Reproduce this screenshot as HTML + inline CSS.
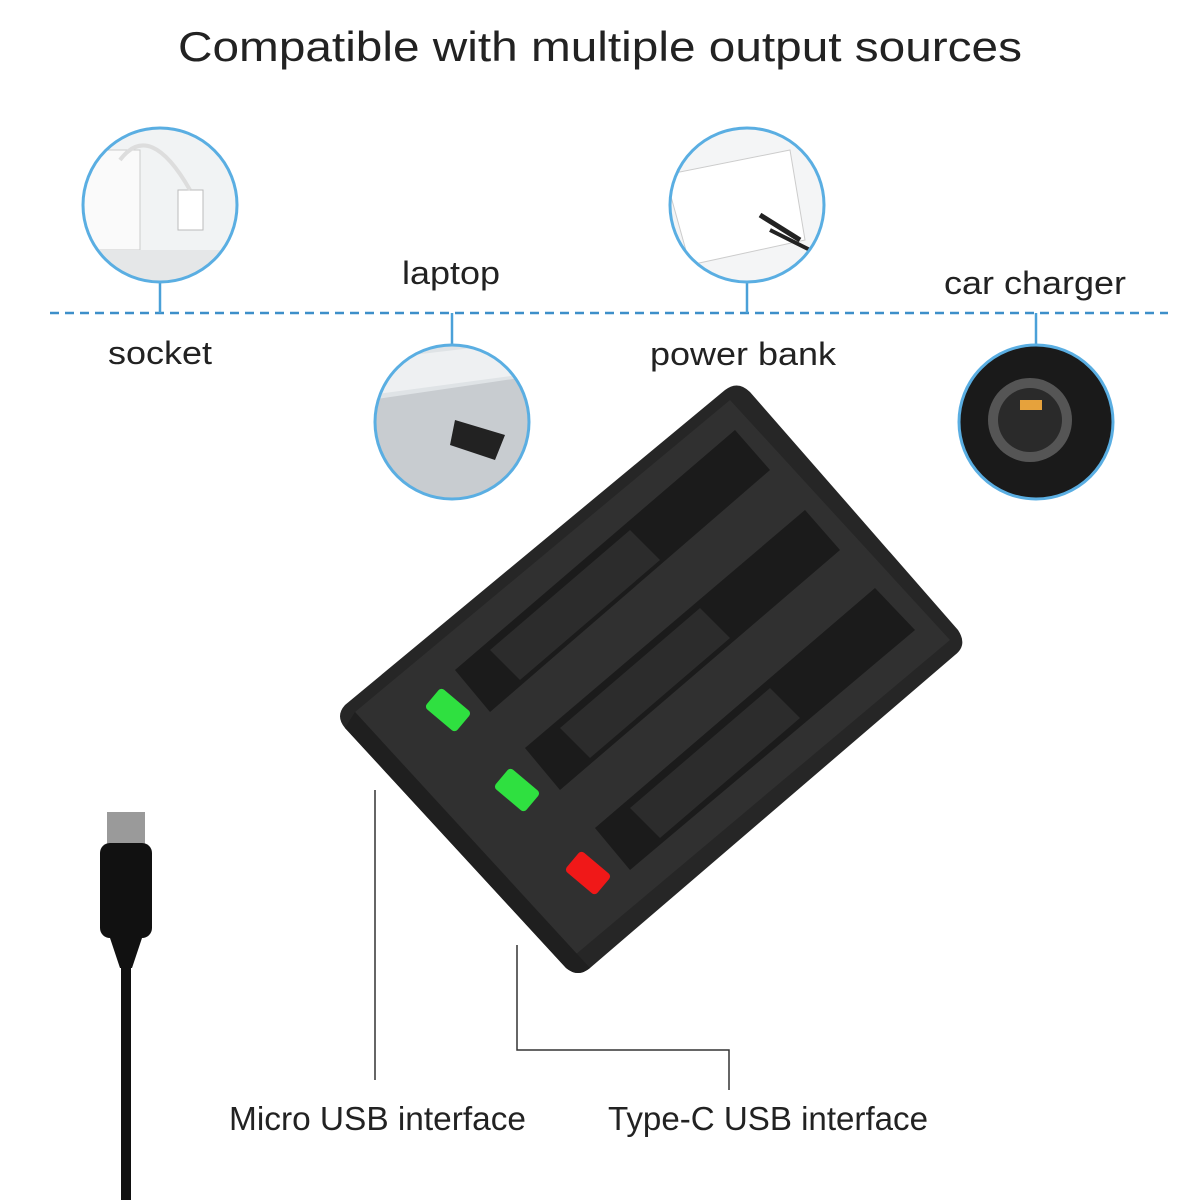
<!DOCTYPE html>
<html><head><meta charset="utf-8"><style>
html,body{margin:0;padding:0;background:#fff;}
svg{display:block}
text{font-family:"Liberation Sans",sans-serif;fill:#222}
</style></head><body>
<svg width="1200" height="1200" viewBox="0 0 1200 1200" xmlns="http://www.w3.org/2000/svg">
<defs>
<clipPath id="c1"><circle cx="160" cy="205" r="76"/></clipPath>
<clipPath id="c2"><circle cx="452" cy="422" r="76"/></clipPath>
<clipPath id="c3"><circle cx="747" cy="205" r="76"/></clipPath>
<clipPath id="c4"><circle cx="1036" cy="422" r="76"/></clipPath>
</defs>
<text x="178" y="61" font-size="42" textLength="844" lengthAdjust="spacingAndGlyphs" fill="#1a1a1a">Compatible with multiple output sources</text>
<line x1="50" y1="313" x2="1168" y2="313" stroke="#3d8fc9" stroke-width="2.5" stroke-dasharray="9,6"/>
<g stroke="#4aa0d8" stroke-width="2.5">
<line x1="160" y1="283" x2="160" y2="313"/>
<line x1="452" y1="313" x2="452" y2="345"/>
<line x1="747" y1="283" x2="747" y2="313"/>
<line x1="1036" y1="313" x2="1036" y2="345"/>
</g>
<!-- socket -->
<circle cx="160" cy="205" r="77" fill="#f1f3f4"/>
<g clip-path="url(#c1)">
<rect x="80" y="150" width="60" height="100" fill="#fafafa" stroke="#ccc"/>
<rect x="178" y="190" width="25" height="40" fill="#fff" stroke="#bbb"/>
<path d="M120 160 Q150 120 190 190" stroke="#ddd" stroke-width="4" fill="none"/>
<rect x="80" y="250" width="160" height="40" fill="#e5e7e8"/>
</g>
<circle cx="160" cy="205" r="77" fill="none" stroke="#5aaee2" stroke-width="3"/>
<!-- laptop -->
<circle cx="452" cy="422" r="77" fill="#dfe3e6"/>
<g clip-path="url(#c2)">
<path d="M370 400 L540 375 L540 500 L370 500 Z" fill="#c8ccd0"/>
<path d="M370 360 L540 340 L540 372 L370 395 Z" fill="#eef0f2"/>
<path d="M455 420 L505 435 L495 460 L450 445 Z" fill="#222"/>
</g>
<circle cx="452" cy="422" r="77" fill="none" stroke="#5aaee2" stroke-width="3"/>
<!-- power bank -->
<circle cx="747" cy="205" r="77" fill="#f4f5f6"/>
<g clip-path="url(#c3)">
<path d="M665 175 L790 150 L805 240 L690 265 Z" fill="#fff" stroke="#ccc"/>
<path d="M760 215 L800 240" stroke="#222" stroke-width="5"/>
<path d="M770 230 L810 250" stroke="#222" stroke-width="4"/>
</g>
<circle cx="747" cy="205" r="77" fill="none" stroke="#5aaee2" stroke-width="3"/>
<!-- car charger -->
<circle cx="1036" cy="422" r="77" fill="#1a1a1a"/>
<g clip-path="url(#c4)">
<circle cx="1030" cy="420" r="42" fill="#555"/>
<circle cx="1030" cy="420" r="32" fill="#2a2a2a"/>
<rect x="1020" y="400" width="22" height="10" fill="#e6a23c"/>
</g>
<circle cx="1036" cy="422" r="77" fill="none" stroke="#5aaee2" stroke-width="3"/>
<text x="108" y="364" font-size="32" textLength="104" lengthAdjust="spacingAndGlyphs">socket</text>
<text x="402" y="284" font-size="32" textLength="98" lengthAdjust="spacingAndGlyphs">laptop</text>
<text x="650" y="365" font-size="32" textLength="186" lengthAdjust="spacingAndGlyphs">power bank</text>
<text x="944" y="294" font-size="32" textLength="182" lengthAdjust="spacingAndGlyphs">car charger</text>
<!-- charger -->
<path d="M345 705 L725 390 Q738 380 750 392 L958 630 Q968 645 955 655 L590 968 Q578 978 566 968 L345 728 Q335 716 345 705 Z" fill="#262626"/>
<path d="M355 712 L730 400 L950 640 L575 955 Z" fill="#303030"/>
<path d="M345 728 L566 968 Q578 978 590 968 L578 955 L355 712 Z" fill="#1f1f1f"/>
<g fill="#1b1b1b">
<path d="M455 670 L735 430 L770 470 L490 712 Z"/>
<path d="M525 748 L805 510 L840 550 L560 790 Z"/>
<path d="M595 828 L875 588 L915 630 L630 870 Z"/>
</g>
<g fill="#2c2c2c">
<path d="M490 650 L630 530 L660 560 L520 680 Z"/>
<path d="M560 728 L700 608 L730 638 L590 758 Z"/>
<path d="M630 808 L770 688 L800 718 L660 838 Z"/>
</g>
<rect x="428" y="697" width="40" height="26" rx="4" fill="#2fe040" transform="rotate(40 448 710)"/>
<rect x="497" y="777" width="40" height="26" rx="4" fill="#2fe040" transform="rotate(40 517 790)"/>
<rect x="568" y="860" width="40" height="26" rx="4" fill="#f01818" transform="rotate(40 588 873)"/>
<!-- cable -->
<rect x="107" y="812" width="38" height="34" fill="#9a9a9a"/>
<rect x="100" y="843" width="52" height="95" rx="10" fill="#111"/>
<path d="M110 938 L142 938 L132 968 L120 968 Z" fill="#111"/>
<rect x="121" y="965" width="10" height="235" fill="#111"/>
<!-- pointer lines -->
<g stroke="#333" stroke-width="1.5" fill="none">
<line x1="375" y1="790" x2="375" y2="1080"/>
<polyline points="517,945 517,1050 729,1050 729,1090"/>
</g>
<text x="229" y="1130" font-size="33" textLength="297" lengthAdjust="spacingAndGlyphs">Micro USB interface</text>
<text x="608" y="1130" font-size="33" textLength="320" lengthAdjust="spacingAndGlyphs">Type-C USB interface</text>
</svg>
</body></html>
